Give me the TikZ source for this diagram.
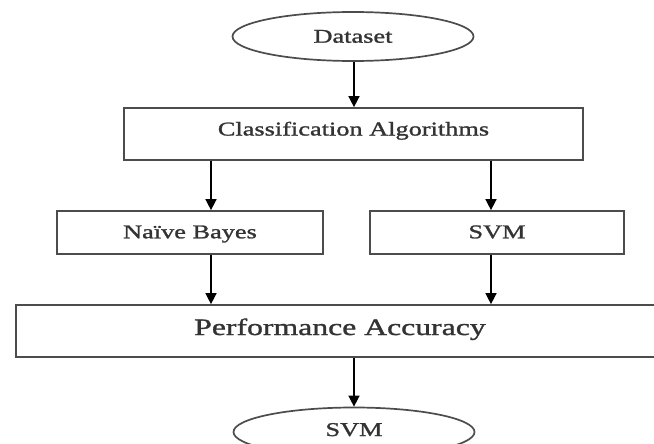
\documentclass[tikz,border=0pt]{standalone}
\usepackage{fontspec}
\setmainfont{Liberation Serif}[FakeStretch=1.35,FakeBold=1.3]
\usetikzlibrary{shapes.geometric,arrows.meta}
\begin{document}
\begin{tikzpicture}[x=1pt,y=-1pt,
  shape frame/.style={draw=black!70, line width=1.7pt, inner sep=0pt,
    text=black!80, font=\fontsize{19.5}{23}\selectfont, text height=14pt},
  procbox/.style={shape frame, rectangle},
  terminal/.style={shape frame, ellipse, minimum width=241pt, minimum height=49pt},
  flow/.style={draw=black, line width=1.5pt, -{Triangle[length=11pt,width=11pt]}}
]
% page frame
\clip (0,0) rectangle (654,444);
\fill[white] (0,0) rectangle (654,444);

% stages of the flow
\node[terminal, text depth=1.6pt] (ds) at (353,36.5) {Dataset};
\node[procbox, minimum width=459pt, minimum height=52pt, text depth=11pt]
  (ca) at (353.5,134) {Classification Algorithms};
\node[procbox, minimum width=266pt, minimum height=43pt, text depth=2.4pt]
  (nb) at (190,232.5) {Naïve Bayes};
\node[procbox, minimum width=254pt, minimum height=43pt, text depth=2.4pt]
  (sv) at (497,232.5) {SVM};
\node[procbox, minimum width=648pt, minimum height=52pt, text depth=8pt,
  font=\fontsize{23.5}{27}\selectfont, text height=16pt]
  (pa) at (340,331) {Performance Accuracy};
\node[terminal, text depth=6pt] (out) at (354,432) {SVM};

% columns for the connectors
\coordinate (xm) at (354,0);
\coordinate (xl) at (211,0);
\coordinate (xr) at (491,0);

% connectors
\draw[flow] (ds.south -| xm) -- (ca.north -| xm);
\draw[flow] (ca.south -| xl) -- (nb.north -| xl);
\draw[flow] (ca.south -| xr) -- (sv.north -| xr);
\draw[flow] (nb.south -| xl) -- (pa.north -| xl);
\draw[flow] (sv.south -| xr) -- (pa.north -| xr);
\draw[flow] (pa.south -| xm) -- (out.north -| xm);
\end{tikzpicture}
\end{document}
